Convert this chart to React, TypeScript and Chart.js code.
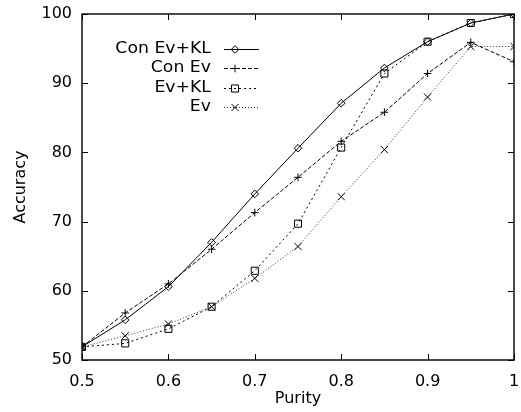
import React, { useEffect, useRef } from 'react';
import { Chart, registerables } from 'chart.js';
Chart.register(...registerables);

const purity = [0.5, 0.55, 0.6, 0.65, 0.7, 0.75, 0.8, 0.85, 0.9, 0.95, 1.0];
const conEvKL = [51.9, 55.8, 60.6, 67.0, 74.0, 80.6, 87.1, 92.2, 96.0, 98.7, 100.0];
const conEv = [51.9, 56.8, 61.0, 66.0, 71.3, 76.4, 81.6, 85.8, 91.4, 95.9, 93.1];
const evKL = [51.9, 52.4, 54.5, 57.7, 62.9, 69.7, 80.7, 91.4, 96.0, 98.7, 100.0];
const ev = [51.9, 53.5, 55.2, 57.7, 61.8, 66.4, 73.6, 80.4, 88.0, 95.3, 95.3];
const xTicks = [0.5, 0.6, 0.7, 0.8, 0.9, 1.0];
const yTicks = [50, 60, 70, 80, 90, 100];
const seriesNames = ['Con Ev+KL', 'Con Ev', 'Ev+KL', 'Ev'];

const FONT = '"DejaVu Sans", sans-serif';

const styles = [
  { pointStyle: 'rectRot', radius: 3.8, dash: [] as number[], color: '#000' },
  { pointStyle: 'cross', radius: 3.8, dash: [4, 2], color: '#000' },
  { pointStyle: 'rect', radius: 5, dash: [2, 3], color: '#000' },
  { pointStyle: 'crossRot', radius: 5, dash: [1, 2], color: '#333' },
];

const seriesValues = [conEvKL, conEv, evKL, ev];

function drawMarker(ctx: CanvasRenderingContext2D, style: string, r: number, x: number, y: number) {
  ctx.beginPath();
  if (style === 'rectRot') {
    ctx.moveTo(x - r, y);
    ctx.lineTo(x, y - r);
    ctx.lineTo(x + r, y);
    ctx.lineTo(x, y + r);
    ctx.closePath();
  } else if (style === 'cross') {
    ctx.moveTo(x - r, y);
    ctx.lineTo(x + r, y);
    ctx.moveTo(x, y - r);
    ctx.lineTo(x, y + r);
  } else if (style === 'rect') {
    const s = r * Math.SQRT1_2;
    ctx.rect(x - s, y - s, 2 * s, 2 * s);
  } else {
    const s = r * Math.SQRT1_2;
    ctx.moveTo(x - s, y - s);
    ctx.lineTo(x + s, y + s);
    ctx.moveTo(x - s, y + s);
    ctx.lineTo(x + s, y - s);
  }
  ctx.stroke();
}

const framePlugin = {
  id: 'frameTicks',
  afterDraw(chart: any) {
    const { ctx, chartArea, scales } = chart;
    const { left, right, top, bottom } = chartArea;
    ctx.save();
    ctx.strokeStyle = '#000';
    ctx.lineWidth = 1;
    ctx.setLineDash([]);
    ctx.beginPath();
    const tl = 6;
    xTicks.forEach((v) => {
      const x = Math.round(scales.x.getPixelForValue(v)) + 0.5;
      ctx.moveTo(x, bottom);
      ctx.lineTo(x, bottom - tl);
      ctx.moveTo(x, top);
      ctx.lineTo(x, top + tl);
    });
    yTicks.forEach((v) => {
      const y = Math.round(scales.y.getPixelForValue(v)) + 0.5;
      ctx.moveTo(left, y);
      ctx.lineTo(left + tl, y);
      ctx.moveTo(right, y);
      ctx.lineTo(right - tl, y);
    });
    ctx.stroke();
    ctx.lineWidth = 1.4;
    ctx.strokeRect(left, top, right - left, bottom - top);

    // legend (text slightly widened like the reference)
    ctx.font = '16px ' + FONT;
    ctx.textAlign = 'right';
    ctx.textBaseline = 'middle';
    ctx.fillStyle = '#000';
    seriesNames.forEach((name, i) => {
      const y = top + 35 + i * 19.3;
      const tx = left + 129;
      ctx.save();
      ctx.translate(tx, y);
      ctx.scale(1.08, 1);
      ctx.fillText(name, 0, 0);
      ctx.restore();
      const st = styles[i];
      ctx.strokeStyle = st.color;
      ctx.lineWidth = 1;
      ctx.setLineDash(st.dash);
      ctx.beginPath();
      ctx.moveTo(left + 142, Math.round(y) + 0.5);
      ctx.lineTo(left + 177, Math.round(y) + 0.5);
      ctx.stroke();
      ctx.setLineDash([]);
      ctx.strokeStyle = '#000';
      drawMarker(ctx, st.pointStyle, st.radius, left + 153, Math.round(y) + 0.5);
    });
    ctx.restore();
  },
};

export default function App() {
  const ref = useRef<HTMLCanvasElement>(null);
  useEffect(() => {
    if (!ref.current) return;
    const datasets = seriesValues.map((vals, i) => ({
      label: seriesNames[i],
      data: purity.map((p, j) => ({ x: p, y: vals[j] })),
      borderColor: styles[i].color,
      borderWidth: 1,
      borderDash: styles[i].dash,
      pointStyle: styles[i].pointStyle,
      pointRadius: styles[i].radius,
      pointBorderColor: '#000',
      pointBackgroundColor: 'rgba(0,0,0,0)',
      pointBorderWidth: 1,
      fill: false,
      tension: 0,
    }));
    const zeroPad = (s: any) => {
      s.paddingTop = 0;
      s.paddingBottom = 0;
      s.paddingLeft = 0;
      s.paddingRight = 0;
    };
    const chart = new Chart(ref.current, {
      type: 'line',
      data: { datasets },
      options: {
        animation: false,
        responsive: false,
        layout: { padding: { top: 14, right: 7, left: 0, bottom: 0 } },
        plugins: { legend: { display: false }, tooltip: { enabled: false } },
        scales: {
          x: {
            type: 'linear',
            min: 0.5,
            max: 1,
            grid: { display: false, drawTicks: false },
            border: { display: false },
            afterBuildTicks: (s: any) => {
              s.ticks = xTicks.map((v) => ({ value: v }));
            },
            afterFit: (s: any) => {
              s.height = 52;
              zeroPad(s);
            },
            ticks: {
              padding: 12,
              color: '#000',
              font: { family: FONT, size: 16 },
              callback: (v: any) => String(Number(Number(v).toFixed(2))),
            },
            title: {
              display: true,
              text: 'Purity',
              color: '#000',
              font: { family: FONT, size: 16 },
              padding: { top: 0, bottom: 4 },
            },
          },
          y: {
            type: 'linear',
            min: 50,
            max: 100,
            grid: { display: false, drawTicks: false },
            border: { display: false },
            afterBuildTicks: (s: any) => {
              s.ticks = yTicks.map((v) => ({ value: v }));
            },
            afterFit: (s: any) => {
              s.width = 82;
              zeroPad(s);
            },
            ticks: {
              padding: 10,
              color: '#000',
              font: { family: FONT, size: 16 },
            },
            title: {
              display: true,
              text: 'Accuracy',
              color: '#000',
              font: { family: FONT, size: 16 },
              padding: { top: 11, bottom: 0 },
            },
          },
        },
      },
      plugins: [framePlugin],
    } as any);
    return () => chart.destroy();
  }, []);
  return (
    <div style={{ position: 'absolute', left: 0, top: 0, width: 521, height: 412, background: '#fff' }}>
      <canvas ref={ref} width={521} height={412} />
    </div>
  );
}
